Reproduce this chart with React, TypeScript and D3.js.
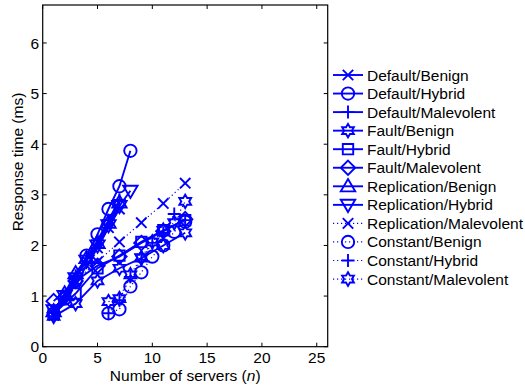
import React from "react";
import * as d3 from "d3";

const seriesNames = [
  "Default/Benign", "Default/Hybrid", "Default/Malevolent",
  "Fault/Benign", "Fault/Hybrid", "Fault/Malevolent",
  "Replication/Benign", "Replication/Hybrid", "Replication/Malevolent",
  "Constant/Benign", "Constant/Hybrid", "Constant/Malevolent",
];
const markers = ["x", "o", "+", "hex", "sq", "dia", "tu", "td", "x", "o", "+", "hex"];
const dotted = [false, false, false, false, false, false, false, false, true, true, true, true];

const steepX = [1, 2, 3, 4, 5, 6, 7];
const steepX8 = [1, 2, 3, 4, 5, 6, 7, 8];
const oddX = [1, 3, 5, 7, 9, 11, 13];
const constX = [6, 7, 8, 9, 10, 11, 12, 13];

const defaultBenign = [0.62, 0.9, 1.25, 1.6, 1.95, 2.35, 2.72];
const defaultHybrid = [0.65, 0.95, 1.3, 1.8, 2.22, 2.72, 3.17, 3.87];
const defaultMalevolent = [0.68, 1.0, 1.4, 1.75, 2.1, 2.5, 2.9];
const faultBenign = [0.6, 0.85, 1.3, 1.55, 1.75, 2.0, 2.25];
const faultHybrid = [0.65, 1.05, 1.55, 1.8, 2.07, 2.3, 2.5];
const faultMalevolent = [0.9, 1.3, 1.6, 1.78, 2.05, 2.28, 2.52];
const replicationBenign = [0.7, 1.05, 1.45, 1.75, 2.05, 2.45, 2.85];
const replicationHybrid = [0.72, 1.0, 1.35, 1.7, 2.0, 2.4, 2.78, 3.08];
const replicationMalevolent = [0.75, 1.3, 1.68, 2.07, 2.45, 2.83, 3.23];
const constantBenign = [0.66, 0.74, 1.19, 1.47, 1.78, 2.0, 2.27, 2.47];
const constantHybrid = [0.66, 0.92, 1.38, 1.72, 2.05, 2.25, 2.62, 2.5];
const constantMalevolent = [0.89, 0.95, 1.42, 1.76, 2.07, 2.3, 2.45, 2.87];

const xsList = [steepX, steepX8, steepX, oddX, oddX, oddX, steepX, steepX8, oddX, constX, constX, constX];
const ysList = [defaultBenign, defaultHybrid, defaultMalevolent, faultBenign, faultHybrid, faultMalevolent,
  replicationBenign, replicationHybrid, replicationMalevolent, constantBenign, constantHybrid, constantMalevolent];

const xTicks = [0, 5, 10, 15, 20, 25];
const yTicks = [0, 1, 2, 3, 4, 5, 6];

const BLUE = "#0000ff";
const FONT = "'Liberation Sans', Arial, Helvetica, sans-serif";

function markerPath(type: string): string {
  switch (type) {
    case "x": {
      const s = 5.2;
      return `M${-s},${-s}L${s},${s}M${-s},${s}L${s},${-s}`;
    }
    case "+": {
      const s = 6.5;
      return `M${-s},0L${s},0M0,${-s}L0,${s}`;
    }
    case "o": {
      const r = 6.2;
      return `M${r},0A${r},${r} 0 1,1 ${-r},0A${r},${r} 0 1,1 ${r},0Z`;
    }
    case "sq": {
      const s = 5.2;
      return `M${-s},${-s}L${s},${-s}L${s},${s}L${-s},${s}Z`;
    }
    case "dia": {
      const s = 7.2;
      return `M0,${-s}L${s},0L0,${s}L${-s},0Z`;
    }
    case "tu": {
      const s = 7.2;
      return `M0,${-s}L${s},${s * 0.7}L${-s},${s * 0.7}Z`;
    }
    case "td": {
      const s = 7.2;
      return `M0,${s}L${s},${-s * 0.7}L${-s},${-s * 0.7}Z`;
    }
    case "hex": {
      const R = 6.8;
      const r = R / Math.sqrt(3);
      const pts: string[] = [];
      for (let i = 0; i < 12; i++) {
        const ang = -Math.PI / 2 + (i * Math.PI) / 6;
        const rad = i % 2 === 0 ? R : r;
        pts.push(`${(rad * Math.cos(ang)).toFixed(2)},${(rad * Math.sin(ang)).toFixed(2)}`);
      }
      return "M" + pts.join("L") + "Z";
    }
  }
  return "";
}

export default function App() {
  const W = 525, H = 389;
  const left = 42.7, right = 327.7, top = 5, bottom = 346.7;
  const x = d3.scaleLinear().domain([0, 26]).range([left, right]);
  const y = d3.scaleLinear().domain([0, 6.75]).range([bottom, top]);
  const line = d3.line<[number, number]>().x((d) => x(d[0])).y((d) => y(d[1]));

  const legendY0 = 75;
  const legendDy = 18.55;
  const SW = 1.9;

  return (
    <svg width={W} height={H} style={{ position: "absolute", left: 0, top: 0 }} fontFamily={FONT}>
      <rect x={0} y={0} width={W} height={H} fill="#fff" />
      {ysList.map((ys, si) => {
        const pts = ys.map((v, i) => [xsList[si][i], v] as [number, number]);
        return (
          <g key={si}>
            <path d={line(pts) || ""} fill="none" stroke={BLUE} strokeWidth={dotted[si] ? 1.2 : SW}
              strokeDasharray={dotted[si] ? "1.2,2.8" : undefined} />
            {pts.map((p, i) => (
              <path key={i} d={markerPath(markers[si])} transform={`translate(${x(p[0])},${y(p[1])})`}
                fill="none" stroke={BLUE} strokeWidth={SW} />
            ))}
          </g>
        );
      })}
      <rect x={left} y={top} width={right - left} height={bottom - top} fill="none" stroke="#000" strokeWidth={1.2} />
      {xTicks.map((t) => (
        <g key={"xt" + t}>
          <line x1={x(t)} x2={x(t)} y1={bottom} y2={bottom - 4} stroke="#000" />
          <line x1={x(t)} x2={x(t)} y1={top} y2={top + 4} stroke="#000" />
          <text x={x(t)} y={363} textAnchor="middle" fontSize={15.5}>{t}</text>
        </g>
      ))}
      {yTicks.map((t) => (
        <g key={"yt" + t}>
          <line x1={left} x2={left + 4} y1={y(t)} y2={y(t)} stroke="#000" />
          <line x1={right} x2={right - 4} y1={y(t)} y2={y(t)} stroke="#000" />
          <text x={39} y={y(t) + 5.6} textAnchor="end" fontSize={15.5}>{t}</text>
        </g>
      ))}
      <text x={(left + right) / 2} y={381} textAnchor="middle" fontSize={15.5}>
        Number of servers (<tspan fontStyle="italic">n</tspan>)
      </text>
      <text transform={`translate(23,162) rotate(-90)`} textAnchor="middle" fontSize={15.5}>
        Response time (ms)
      </text>
      {seriesNames.map((name, i) => {
        const ly = legendY0 + i * legendDy;
        return (
          <g key={"lg" + i}>
            <line x1={333} x2={363} y1={ly} y2={ly} stroke={BLUE} strokeWidth={dotted[i] ? 1.2 : SW}
              strokeDasharray={dotted[i] ? "1.2,2.8" : undefined} />
            <path d={markerPath(markers[i])} transform={`translate(348,${ly})`} fill="none" stroke={BLUE} strokeWidth={SW} />
            <text x={367} y={ly + 5.5} fontSize={15.5}>{name}</text>
          </g>
        );
      })}
    </svg>
  );
}
